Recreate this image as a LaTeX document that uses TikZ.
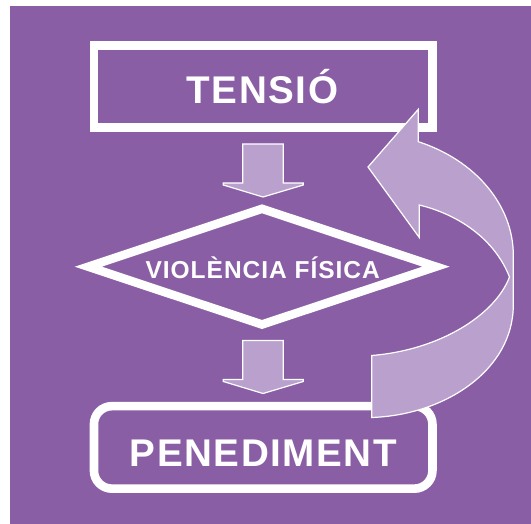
\documentclass[tikz,border=0pt]{standalone}
\usepackage{fontspec}
\newfontfamily\diagfont{Liberation Sans}[LetterSpace=4.0]

\definecolor{bgpurple}{RGB}{138,94,165}
\definecolor{lightpurple}{RGB}{186,160,204}

\tikzset{
  boxframe/.style={draw=white, line width=8.6pt, inner sep=0pt},
  arrowblock/.style={fill=lightpurple, draw=white, line width=1.2pt, line join=miter},
  bigword/.style={text=white, inner sep=0pt, anchor=base,
    font=\diagfont\bfseries\fontsize{38.6}{38.6}\selectfont},
  smallword/.style={text=white, inner sep=0pt, anchor=base,
    font=\diagfont\bfseries\fontsize{24.5}{24.5}\selectfont}
}

\begin{document}
\begin{tikzpicture}[x=1pt, y=-1pt]
    \useasboundingbox (0,0) rectangle (531,524);
    \fill[white] (0,0) rectangle (531,524);
    \fill[bgpurple] (10,6) rectangle (531,524);

    % Boxes of the cycle
    \node[boxframe, minimum width=338.5pt, minimum height=82.2pt] (tensiobox) at (263.2,86.4) {};
    \draw[boxframe] (88.3,266.7) coordinate (westtip) -- (262,208.8) coordinate (northtip)
      -- (436,266.7) coordinate (easttip) -- (262,324.5) coordinate (southtip) -- cycle;
    \node[boxframe, rounded corners=18pt, minimum width=338.5pt, minimum height=82.5pt] (penedimentbox) at (263.2,447.4) {};

    \node[bigword] (tensio) at (262.5,103.3) {TENSIÓ};
    \node[smallword] (violencia) at (262.7,279) {VIOLÈNCIA FÍSICA};
    \node[bigword] (penediment) at (263.3,466.7) {PENEDIMENT};

    % Down arrows between the steps
    \foreach \dy in {0,196.5} {
      \draw[arrowblock, yshift=-\dy pt] (242.7,144) -- (283.3,144) -- (283.3,183) -- (303.3,183)
        -- (303.3,185) -- (263,197) -- (223.3,185) -- (223.3,183) -- (242.7,183) -- cycle;
    }

    % Curved arrow back to the start
    \draw[arrowblock] (371.7,417.5) -- (371.7,355.5)
      .. controls (440,350) and (495,315) .. (509.5,277)
      .. controls (495,240) and (460,215) .. (419.3,205)
      -- (419.3,237.5) -- (368,167) -- (418.3,109.3) -- (418.3,141.7)
      .. controls (475,160) and (513.3,205) .. (513.3,255)
      -- (513.3,305)
      .. controls (513.3,370) and (445,415) .. (371.7,417.5) -- cycle;
  \end{tikzpicture}
\end{document}
